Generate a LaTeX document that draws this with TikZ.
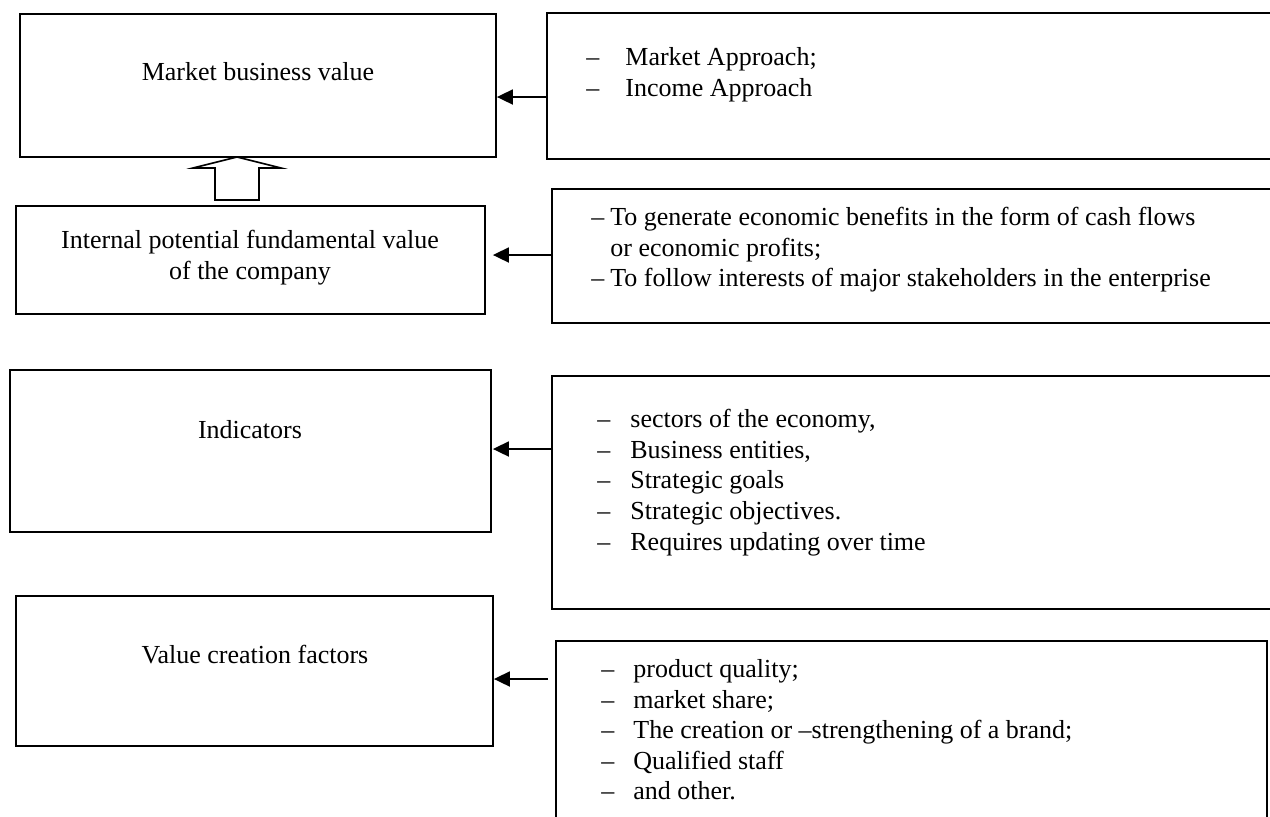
\documentclass[tikz,border=0pt]{standalone}
\usepackage{fontspec}
\setmainfont{Liberation Serif}
\usetikzlibrary{arrows.meta,fit}

% one list line: dash, then the text after a fixed gap
\newcommand{\dashitem}[2][16.5pt]{\makebox[#1][l]{--}#2}

\tikzset{
  box/.style={draw, line width=0.9pt, inner sep=0pt},
  lbl/.style={font=\fontsize{13}{15.3}\selectfont, align=center, inner sep=0pt},
  lst/.style={font=\fontsize{13}{15.3}\selectfont, align=left, anchor=north west, inner sep=0pt},
  arr/.style={line width=0.9pt, -{Triangle[length=8pt,width=7.5pt]}},
}

\begin{document}
\begin{tikzpicture}[x=0.5pt,y=-0.5pt]
    \useasboundingbox (0,0) rectangle (1270,816);
    \clip (0,0) rectangle (1270,816);

    % Left column: what is valued
    \node[box, fit={(20,14) (496,157)}] (mbv) {};
    \node[lbl, anchor=base] (mbvlbl) at (258,80) {Market business value};

    \node[box, fit={(16,206) (485,314)}] (ipfv) {};
    \node[lbl, anchor=north] (ipfvlbl) at (250,230) {Internal potential fundamental value\\of the company};

    \node[box, fit={(10,370) (491,532)}] (ind) {};
    \node[lbl, anchor=base] (indlbl) at (250,438) {Indicators};

    \node[box, fit={(16,596) (493,746)}] (vcf) {};
    \node[lbl, anchor=base] (vcflbl) at (255,663) {Value creation factors};

    % Right column: what feeds each value
    \node[box, fit={(547,13) (1290,159)}] (appr) {};
    \node[lst] (apprlst) at (586,47) {\dashitem[19.5pt]{Market Approach;}\\
        \dashitem[19.5pt]{Income Approach}};

    \node[box, fit={(552,189) (1290,323)}] (benef) {};
    \node[lst] (beneflst) at (591,207) {\dashitem[9.5pt]{To generate economic benefits in the form of cash flows}\\
        \hspace*{9.5pt}or economic profits;\\
        \dashitem[9.5pt]{To follow interests of major stakeholders in the enterprise}};

    \node[box, fit={(552,376) (1290,609)}] (indlst) {};
    \node[lst] (indlsttxt) at (597,409) {\dashitem{sectors of the economy,}\\
        \dashitem{Business entities,}\\
        \dashitem{Strategic goals}\\
        \dashitem{Strategic objectives.}\\
        \dashitem{Requires updating over time}};

    \node[box, fit={(556,641) (1267,840)}] (fact) {};
    \node[lst] (factlst) at (601,659) {\dashitem[16pt]{product quality;}\\
        \dashitem[16pt]{market share;}\\
        \dashitem[16pt]{The creation or --strengthening of a brand;}\\
        \dashitem[16pt]{Qualified staff}\\
        \dashitem[16pt]{and other.}};

    % Arrows from right to left
    \draw[arr] (appr.west |- 0,97) -- (mbv.east |- 0,97);
    \draw[arr] (benef.west |- 0,255) -- ([xshift=3.5pt]ipfv.east |- 0,255);
    \draw[arr] ([xshift=1pt]indlst.west |- 0,449) -- ([xshift=0.5pt]ind.east |- 0,449);
    \draw[arr] ([xshift=-3.5pt]fact.west |- 0,679) -- (vcf.east |- 0,679);

    % Hollow arrow: fundamental value up to market value
    \draw[line width=0.8pt, fill=white] (215,200) -- (215,168) -- (193,168) -- (237,157)
        -- (281,168) -- (259,168) -- (259,200) -- cycle;
\end{tikzpicture}
\end{document}
